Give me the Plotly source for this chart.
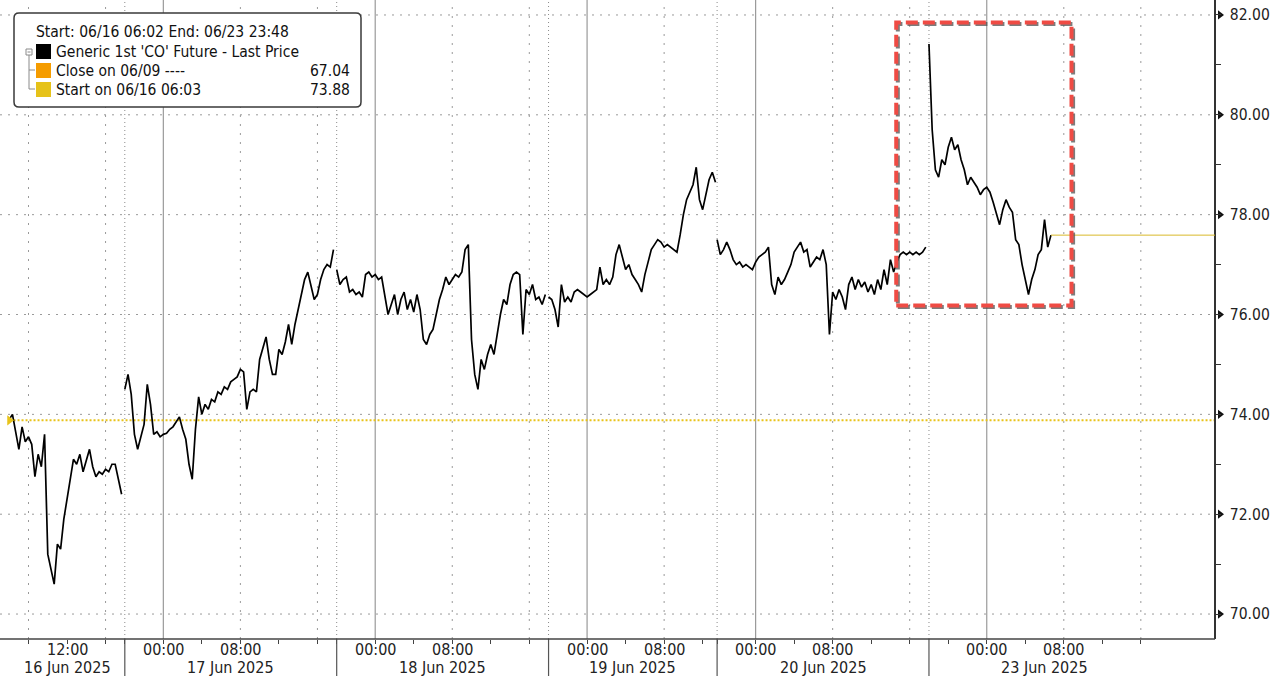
import plotly.graph_objects as go

# ---------------- DATA ----------------
# Trading-time axis: hours of trading elapsed since 16 Jun 2025 06:00
# (daily 18:00-20:00 break, weekend and Juneteenth early close removed).
step_h = 1 / 3
session_names = ['16 Jun 2025', '17 Jun 2025', '18 Jun 2025', '19 Jun 2025', '20 Jun 2025', '23 Jun 2025']
session_open_h = [0.0, 12.0, 34.0, 56.0, 73.5, 95.5]
session_close_h = [12.0, 34.0, 56.0, 73.5, 95.5, 119.5]

prices_16jun = [73.9, 74.0, 73.65, 73.3, 73.75, 73.45, 73.55, 73.4, 72.75, 73.2,
                72.95, 73.6, 71.2, 70.9, 70.6, 71.4, 71.3, 71.9, 72.3, 72.7,
                73.1, 73.0, 73.2, 72.85, 73.1, 73.3, 72.95, 72.75, 72.85, 72.8,
                72.9, 72.85, 73.0, 73.0, 72.7, 72.4]
prices_17jun = [74.5, 74.8, 74.4, 73.6, 73.3, 73.55, 73.8, 74.6, 74.2, 73.6,
                73.65, 73.55, 73.6, 73.62, 73.7, 73.75, 73.85, 73.95, 73.7, 73.5,
                73.0, 72.7, 73.7, 74.35, 74.0, 74.2, 74.1, 74.3, 74.25, 74.45,
                74.4, 74.55, 74.5, 74.65, 74.7, 74.75, 74.9, 74.85, 74.1, 74.45,
                74.5, 74.45, 75.1, 75.35, 75.55, 75.1, 74.8, 74.8, 75.3, 75.2,
                75.45, 75.8, 75.4, 75.8, 76.1, 76.4, 76.7, 76.85, 76.6, 76.3,
                76.4, 76.7, 76.9, 77.0, 76.95, 77.3]
prices_18jun = [76.9, 76.6, 76.7, 76.75, 76.45, 76.5, 76.4, 76.45, 76.35, 76.8,
                76.85, 76.75, 76.8, 76.7, 76.75, 76.4, 76.0, 76.2, 76.4, 76.0,
                76.3, 76.45, 76.1, 76.3, 76.05, 76.4, 76.1, 75.5, 75.4, 75.6,
                75.7, 76.0, 76.3, 76.5, 76.75, 76.6, 76.7, 76.8, 76.75, 76.85,
                77.3, 77.4, 75.5, 74.8, 74.5, 75.1, 74.9, 75.2, 75.4, 75.2,
                75.6, 76.0, 76.3, 76.2, 76.6, 76.8, 76.85, 76.8, 75.6, 76.5,
                76.4, 76.6, 76.3, 76.35, 76.2, 76.4]
prices_19jun = [76.35, 76.3, 76.1, 75.75, 76.6, 76.25, 76.35, 76.25, 76.45, 76.5,
                76.45, 76.4, 76.35, 76.4, 76.45, 76.5, 76.95, 76.6, 76.7, 76.6,
                76.75, 77.2, 77.4, 77.15, 76.9, 77.0, 76.8, 76.7, 76.6, 76.45,
                76.8, 77.05, 77.3, 77.4, 77.5, 77.45, 77.35, 77.4, 77.35, 77.3,
                77.25, 77.6, 78.0, 78.3, 78.45, 78.6, 78.95, 78.3, 78.1, 78.4,
                78.7, 78.85, 78.65]
prices_20jun = [77.5, 77.2, 77.3, 77.45, 77.3, 77.1, 77.0, 77.05, 76.95, 77.0,
                76.95, 76.9, 77.05, 77.15, 77.2, 77.25, 77.35, 76.6, 76.4, 76.75,
                76.6, 76.7, 76.85, 77.0, 77.25, 77.35, 77.45, 77.25, 77.3, 76.95,
                77.05, 77.15, 77.1, 77.3, 77.0, 75.6, 76.45, 76.3, 76.5, 76.35,
                76.1, 76.6, 76.75, 76.5, 76.7, 76.55, 76.65, 76.45, 76.6, 76.4,
                76.7, 76.5, 76.9, 76.6, 77.1, 76.85, 77.05, 77.2, 77.25, 77.2,
                77.25, 77.2, 77.25, 77.2, 77.25, 77.35]
prices_23jun = [81.42, 79.7, 78.9, 78.75, 79.1, 79.0, 79.35, 79.55, 79.3, 79.4,
                79.1, 78.9, 78.6, 78.75, 78.65, 78.55, 78.4, 78.5, 78.55, 78.45,
                78.25, 78.0, 77.8, 78.1, 78.3, 78.15, 78.05, 77.5, 77.4, 77.0,
                76.7, 76.4, 76.7, 76.9, 77.2, 77.3, 77.9, 77.35, 77.59]
session_prices = [prices_16jun, prices_17jun, prices_18jun, prices_19jun, prices_20jun, prices_23jun]

close_0609 = 67.04
start_0616 = 73.88
last_price = 77.59

# axis ticks (trading hours) and labels
tick_hours = [2, 6, 10, 12, 16, 20, 24, 28, 32, 34, 38, 42, 46, 50, 54, 56, 60, 64, 68, 72,
              73.5, 77.5, 81.5, 85.5, 89.5, 93.5, 97.5, 101.5, 105.5, 109.5, 113.5, 117.5]
time_label_hours = [6, 16, 24, 38, 46, 60, 68, 77.5, 85.5, 101.5, 109.5]
time_label_texts = ['12:00', '00:00', '08:00', '00:00', '08:00', '00:00', '08:00', '00:00', '08:00', '00:00', '08:00']
midnight_hours = [16, 38, 60, 77.5, 101.5]
grid_hours = [2, 10, 24, 32, 46, 54, 68, 85.5, 93.5, 109.5, 117.5]
y_ticks = [70, 72, 74, 76, 78, 80, 82]

# highlight box (trading hours / price)
box_h = [92.1, 110.3]
box_p = [76.18, 81.85]

# ---------------- BUILD ----------------
x, y = [], []
for o, p in zip(session_open_h, session_prices):
    if x:
        x.append(None)
        y.append(None)
    x += [o + k * step_h for k in range(len(p))]
    y += p
last_x = session_open_h[-1] + (len(prices_23jun) - 1) * step_h

W, H = 1280, 676
ML, MR, MT, MB = 0, 0, 0, 37
PW, PH = W - ML - MR, H - MT - MB
AXIS_PX = 1215                      # pixel position of the price axis
x_start, x_axis_end = -0.96, 125.2  # trading hours at pixel 0 and at the price axis
h_per_px = (x_axis_end - x_start) / AXIS_PX
x_range = [x_start, x_start + PW * h_per_px]
y_range = [69.5, 82.3]
p_per_px = (y_range[1] - y_range[0]) / PH

FONT = 'DejaVu Sans Condensed, DejaVu Sans, sans-serif'


def X(px):
    return px / PW


def Y(py):
    return (PH - py) / PH


fig = go.Figure()
fig.add_trace(go.Scatter(x=x, y=y, mode='lines', line=dict(color='#000000', width=1.7),
                         connectgaps=False, hoverinfo='skip'))
fig.add_trace(go.Scatter(x=[0.03], y=[start_0616], mode='markers',
                         marker=dict(symbol='triangle-right', size=9, color='#e8c31a'),
                         hoverinfo='skip'))
# arrow heads at the price-axis major ticks
fig.add_trace(go.Scatter(x=[x_axis_end + 5 * h_per_px] * len(y_ticks), y=y_ticks, mode='markers',
                         marker=dict(symbol='triangle-right', size=8, color='#111111', line=dict(width=0)),
                         hoverinfo='skip'))

shapes = []
# horizontal gridlines (stop at the price axis)
for v in y_ticks:
    shapes.append(dict(type='line', xref='x', yref='y', x0=x_start, x1=x_axis_end, y0=v, y1=v, layer='below',
                       line=dict(color='#9a9a9a', width=1, dash='2px,6px')))
# vertical gridlines
for h in grid_hours:
    shapes.append(dict(type='line', xref='x', yref='paper', x0=h, x1=h, y0=0, y1=1, layer='below',
                       line=dict(color='#9a9a9a', width=1, dash='2px,7px')))
for h in session_open_h[1:]:
    shapes.append(dict(type='line', xref='x', yref='paper', x0=h, x1=h, y0=0, y1=1, layer='below',
                       line=dict(color='#8a8a8a', width=1, dash='1px,3px')))
    shapes.append(dict(type='line', xref='x', yref='paper', x0=h, x1=h, y0=0, y1=-MB / PH,
                       line=dict(color='#555555', width=1.2)))
for h in midnight_hours:
    shapes.append(dict(type='line', xref='x', yref='paper', x0=h, x1=h, y0=0, y1=1, layer='below',
                       line=dict(color='#9a9a9a', width=1.2)))
# time-axis line (stops at the price axis)
shapes.append(dict(type='line', xref='x', yref='paper', x0=x_start, x1=x_axis_end, y0=0, y1=0,
                   line=dict(color='#444444', width=1.5)))
# start line & last price line
shapes.append(dict(type='line', xref='x', yref='y', x0=0.03, x1=x_axis_end, y0=start_0616, y1=start_0616,
                   layer='below', line=dict(color='#e8c31a', width=2, dash='2px,2px')))
shapes.append(dict(type='line', xref='x', yref='y', x0=last_x, x1=x_axis_end, y0=last_price, y1=last_price,
                   line=dict(color='#d9b92a', width=1)))
# highlight box with shadow
dxh, dyp = 1.6 * h_per_px, 1.6 * p_per_px
shapes.append(dict(type='rect', xref='x', yref='y', x0=box_h[0] + dxh, x1=box_h[1] + dxh,
                   y0=box_p[0] - dyp, y1=box_p[1] - dyp,
                   line=dict(color='rgba(80,80,80,0.75)', width=4, dash='12px,5px')))
shapes.append(dict(type='rect', xref='x', yref='y', x0=box_h[0], x1=box_h[1], y0=box_p[0], y1=box_p[1],
                   line=dict(color='#ef4b44', width=4, dash='12px,5px')))


# legend box
def rrect(x0, y0, x1, y1, r):
    return (f'M {X(x0 + r)} {Y(y0)} L {X(x1 - r)} {Y(y0)} Q {X(x1)} {Y(y0)} {X(x1)} {Y(y0 + r)} '
            f'L {X(x1)} {Y(y1 - r)} Q {X(x1)} {Y(y1)} {X(x1 - r)} {Y(y1)} '
            f'L {X(x0 + r)} {Y(y1)} Q {X(x0)} {Y(y1)} {X(x0)} {Y(y1 - r)} '
            f'L {X(x0)} {Y(y0 + r)} Q {X(x0)} {Y(y0)} {X(x0 + r)} {Y(y0)} Z')


shapes.append(dict(type='path', xref='paper', yref='paper', path=rrect(14, 13, 361, 107, 5),
                   fillcolor='white', line=dict(color='#3a3a3a', width=1.5)))
# tree glyph
shapes.append(dict(type='rect', xref='paper', yref='paper', x0=X(26), x1=X(32), y0=Y(49), y1=Y(55),
                   line=dict(color='#8a8a8a', width=1), fillcolor='white'))
shapes.append(dict(type='line', xref='paper', yref='paper', x0=X(27.5), x1=X(30.5), y0=Y(52), y1=Y(52),
                   line=dict(color='#8a8a8a', width=1)))
shapes.append(dict(type='line', xref='paper', yref='paper', x0=X(29), x1=X(29), y0=Y(55), y1=Y(89),
                   line=dict(color='#8a8a8a', width=1)))
for ry in (70, 89):
    shapes.append(dict(type='line', xref='paper', yref='paper', x0=X(29), x1=X(35), y0=Y(ry), y1=Y(ry),
                       line=dict(color='#8a8a8a', width=1)))
legend_colors = ['#000000', '#f59c00', '#e6c219']
legend_rows_y = [51.5, 70.5, 89.5]
for c, ry in zip(legend_colors, legend_rows_y):
    shapes.append(dict(type='rect', xref='paper', yref='paper', x0=X(36), x1=X(51), y0=Y(ry - 7.5), y1=Y(ry + 7.5),
                       fillcolor=c, line=dict(width=0)))

annotations = []
lfont = dict(family=FONT, size=15.5, color='#111111')
annotations.append(dict(xref='paper', yref='paper', x=X(34), y=Y(32), xanchor='left', yanchor='middle',
                        text='Start: 06/16 06:02 End: 06/23 23:48', showarrow=False, font=lfont))
legend_texts = ["Generic 1st 'CO' Future - Last Price", 'Close on 06/09 ----', 'Start on 06/16 06:03']
legend_values = ['', f'{close_0609:.2f}', f'{start_0616:.2f}']
for t, v, ry in zip(legend_texts, legend_values, legend_rows_y):
    annotations.append(dict(xref='paper', yref='paper', x=X(54), y=Y(ry), xanchor='left', yanchor='middle',
                            text=t, showarrow=False, font=lfont))
    if v:
        annotations.append(dict(xref='paper', yref='paper', x=X(352), y=Y(ry), xanchor='right',
                                yanchor='middle', text=v, showarrow=False, font=lfont))

afont = dict(family=FONT, size=16, color='#222222')
for h, t in zip(time_label_hours, time_label_texts):
    annotations.append(dict(xref='x', yref='paper', x=h, y=Y(649), xanchor='center', yanchor='middle',
                            text=t, showarrow=False, font=afont))
for o, c, n in zip(session_open_h, session_close_h, session_names):
    annotations.append(dict(xref='x', yref='paper', x=(o + c) / 2, y=Y(667), xanchor='center',
                            yanchor='middle', text=n, showarrow=False, font=afont))

fig.update_layout(
    width=W, height=H,
    margin=dict(l=ML, r=MR, t=MT, b=MB, autoexpand=False),
    paper_bgcolor='white', plot_bgcolor='white',
    showlegend=False,
    shapes=shapes, annotations=annotations,
    xaxis=dict(range=x_range, showgrid=False, zeroline=False, showline=False,
               tickmode='array', tickvals=tick_hours, ticks='outside', ticklen=4,
               tickcolor='#444444', showticklabels=False),
    yaxis=dict(range=y_range, side='right', anchor='free', position=AXIS_PX / PW,
               showgrid=False, zeroline=False, showline=True, linecolor='#333333', linewidth=1.5,
               tickmode='array', tickvals=y_ticks, ticktext=[f'{v:.2f}' for v in y_ticks],
               ticks='', ticklabelstandoff=11,
               tickfont=dict(family=FONT, size=15.5, color='#222222'),
               minor=dict(dtick=1, tick0=69, ticks='outside', ticklen=5, tickcolor='#333333', showgrid=False)),
)

fig.write_html('out.html', config={'displayModeBar': False},
               post_script="document.body.style.margin='0px';document.body.style.overflow='hidden';")
